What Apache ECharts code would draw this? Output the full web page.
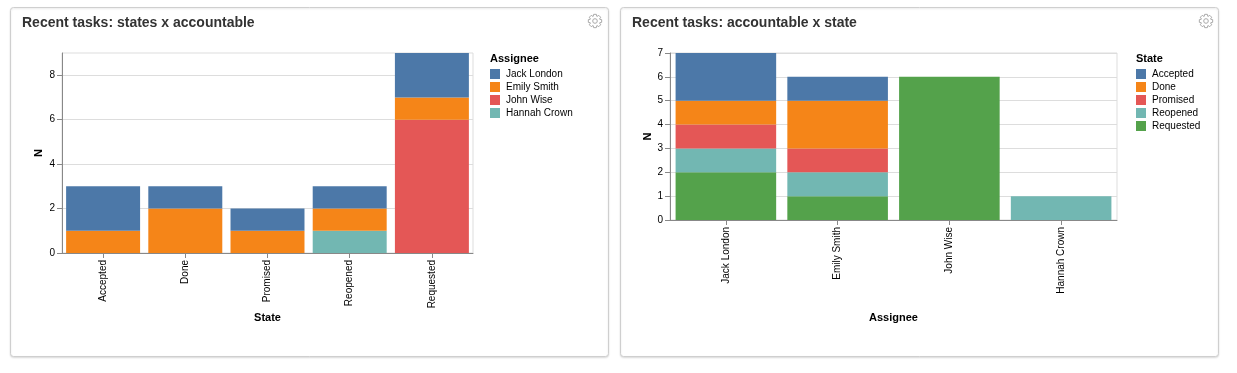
<!DOCTYPE html>
<html><head><meta charset="utf-8">
<script src="https://cdn.jsdelivr.net/npm/echarts@6/dist/echarts.min.js"></script>
<style>html,body{margin:0;padding:0;background:#fff;overflow:hidden}#c{width:1237px;height:373px}</style>
</head><body><div id="c"></div>
<script>
// ---- data ----
const states = ['Accepted', 'Done', 'Promised', 'Reopened', 'Requested'];
const assignees = ['Jack London', 'Emily Smith', 'John Wise', 'Hannah Crown'];
// Panel 1: tasks per state, one array per assignee
const jackByState   = [2, 1, 1, 1, 2];
const emilyByState  = [1, 2, 1, 1, 1];
const johnByState   = [0, 0, 0, 0, 6];
const hannahByState = [0, 0, 0, 1, 0];
// Panel 2: tasks per assignee, one array per state
const acceptedByAssignee  = [2, 1, 0, 0];
const doneByAssignee      = [1, 2, 0, 0];
const promisedByAssignee  = [1, 1, 0, 0];
const reopenedByAssignee  = [1, 1, 0, 1];
const requestedByAssignee = [2, 1, 6, 0];
const yTicks1 = [0, 2, 4, 6, 8];
const yTicks2 = [0, 1, 2, 3, 4, 5, 6, 7];

// ---- style ----
const FONT = '"Liberation Sans", Arial, Helvetica, sans-serif';
const C = { blue: '#4c78a8', orange: '#f58518', red: '#e45756', teal: '#72b7b2', green: '#54a24b' };

const chart = echarts.init(document.getElementById('c'), null, { renderer: 'canvas' });

function bar(name, data, idx, stack, color) {
  return {
    type: 'bar', name, data, stack, xAxisIndex: idx, yAxisIndex: idx,
    barCategoryGap: '10%', itemStyle: { color }, emphasis: { disabled: true }, animation: false
  };
}

function xAxis(idx, data, name, gap) {
  return {
    type: 'category', gridIndex: idx, data,
    name, nameLocation: 'middle', nameGap: gap, nameMoveOverlap: false,
    nameTextStyle: { fontFamily: FONT, fontSize: 11, fontWeight: 'bold', color: '#000' },
    axisLine: { show: true, lineStyle: { color: '#888' } },
    axisTick: { show: true, alignWithLabel: true, length: 5, lineStyle: { color: '#888' } },
    axisLabel: { rotate: 90, margin: 7, fontFamily: FONT, fontSize: 10, color: '#000' },
    splitLine: { show: false }
  };
}

function yAxis(idx, max, ticks, gap) {
  return {
    type: 'value', gridIndex: idx, min: 0, max,
    name: 'N', nameLocation: 'middle', nameGap: gap, nameMoveOverlap: false,
    nameTextStyle: { fontFamily: FONT, fontSize: 11, fontWeight: 'bold', color: '#000' },
    axisLine: { show: true, lineStyle: { color: '#888' } },
    axisTick: { show: true, length: 5, lineStyle: { color: '#888' }, customValues: ticks },
    axisLabel: { margin: 7, fontFamily: FONT, fontSize: 10, color: '#000', customValues: ticks },
    splitLine: { show: true, lineStyle: { color: '#ddd' } }
  };
}

function legend(left, data) {
  return {
    orient: 'vertical', left, top: 69, itemWidth: 10, itemHeight: 10, itemGap: 3,
    padding: 0, data, selectedMode: false, icon: 'rect',
    textStyle: { fontFamily: FONT, fontSize: 10, color: '#000', padding: [0, 0, 0, 1] }
  };
}

// decorative settings-gear icon outline
function gearPoints(cx, cy) {
  const teeth = 8, rOut = 6.8, rIn = 5.0, pts = [];
  for (let i = 0; i < teeth; i++) {
    const a = (i * 2 * Math.PI) / teeth;
    [[rIn, a - 0.36], [rOut, a - 0.2], [rOut, a + 0.2], [rIn, a + 0.36]].forEach(p => {
      pts.push([cx + p[0] * Math.cos(p[1]), cy + p[0] * Math.sin(p[1])]);
    });
  }
  return pts;
}
function gear(cx) {
  return [
    { type: 'polygon', shape: { points: gearPoints(cx, 21) }, style: { fill: 'none', stroke: '#aaa', lineWidth: 1 } },
    { type: 'circle', shape: { cx, cy: 21, r: 2.3 }, style: { fill: 'none', stroke: '#aaa', lineWidth: 1 } }
  ];
}

const option = {
  animation: false,
  backgroundColor: '#fff',
  graphic: [
    { type: 'rect', shape: { x: 10.5, y: 7.5, width: 598, height: 349, r: 3 },
      style: { fill: '#fff', stroke: '#cfcfcf', lineWidth: 1, shadowBlur: 2, shadowOffsetY: 1, shadowColor: 'rgba(0,0,0,0.12)' }, z: -10 },
    { type: 'rect', shape: { x: 620.5, y: 7.5, width: 598, height: 349, r: 3 },
      style: { fill: '#fff', stroke: '#cfcfcf', lineWidth: 1, shadowBlur: 2, shadowOffsetY: 1, shadowColor: 'rgba(0,0,0,0.12)' }, z: -10 }
  ].concat(gear(595), gear(1206)),
  title: [
    { text: 'Recent tasks: states x accountable', left: 22, top: 16, padding: 0,
      textStyle: { fontFamily: FONT, fontSize: 14, fontWeight: 'bold', color: '#333' } },
    { text: 'Recent tasks: accountable x state', left: 632, top: 16, padding: 0,
      textStyle: { fontFamily: FONT, fontSize: 14, fontWeight: 'bold', color: '#333' } },
    { text: 'Assignee', left: 490, top: 53, padding: 0,
      textStyle: { fontFamily: FONT, fontSize: 11, fontWeight: 'bold', color: '#000' } },
    { text: 'State', left: 1136, top: 53, padding: 0,
      textStyle: { fontFamily: FONT, fontSize: 11, fontWeight: 'bold', color: '#000' } }
  ],
  legend: [legend(490, assignees), legend(1136, states)],
  grid: [
    { left: 62, top: 53, width: 411, height: 200, show: true, borderColor: '#ddd', borderWidth: 1, backgroundColor: 'transparent' },
    { left: 670, top: 53, width: 447, height: 167, show: true, borderColor: '#ddd', borderWidth: 1, backgroundColor: 'transparent' }
  ],
  xAxis: [xAxis(0, states, 'State', 59), xAxis(1, assignees, 'Assignee', 92)],
  yAxis: [yAxis(0, 9, yTicks1, 18), yAxis(1, 7, yTicks2, 17)],
  series: [
    bar('Hannah Crown', hannahByState, 0, 'a', C.teal),
    bar('John Wise', johnByState, 0, 'a', C.red),
    bar('Emily Smith', emilyByState, 0, 'a', C.orange),
    bar('Jack London', jackByState, 0, 'a', C.blue),
    bar('Requested', requestedByAssignee, 1, 'b', C.green),
    bar('Reopened', reopenedByAssignee, 1, 'b', C.teal),
    bar('Promised', promisedByAssignee, 1, 'b', C.red),
    bar('Done', doneByAssignee, 1, 'b', C.orange),
    bar('Accepted', acceptedByAssignee, 1, 'b', C.blue)
  ]
};
chart.setOption(option);
</script></body></html>
